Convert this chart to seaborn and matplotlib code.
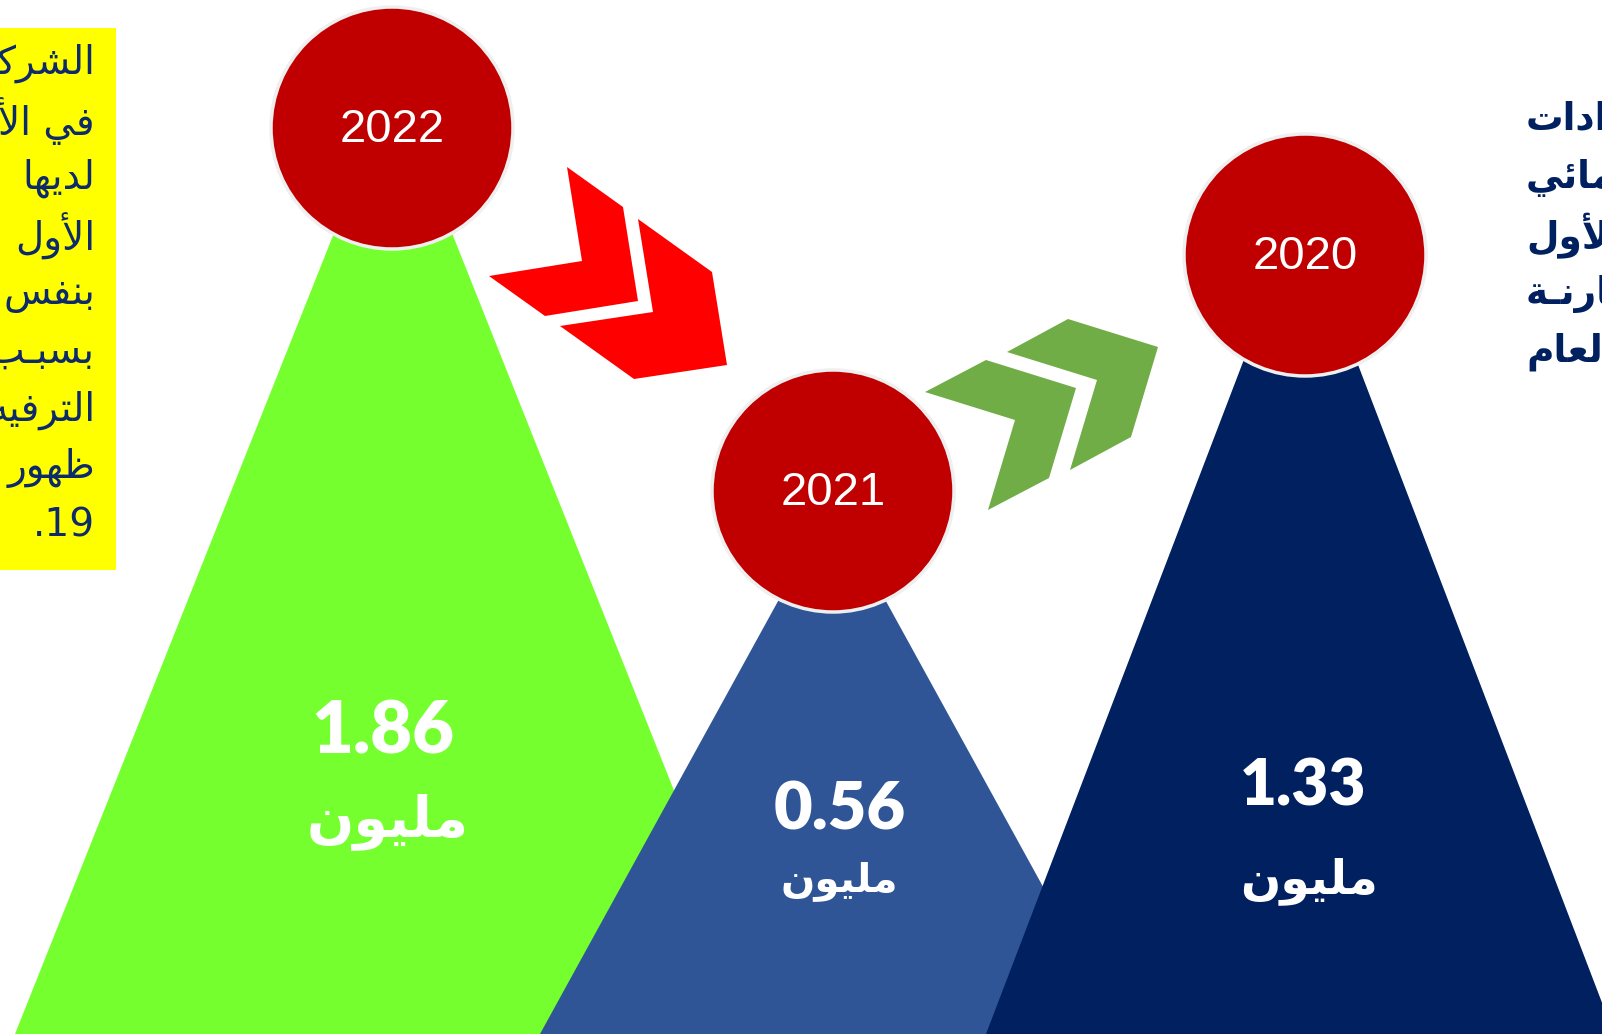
import re
import matplotlib
matplotlib.use("Agg")
import matplotlib.pyplot as plt
import seaborn as sns
from matplotlib.patches import Polygon, Circle, Rectangle

sns.set_style("white")
plt.rcParams["font.family"] = ["DejaVu Sans"]

# data
years = ["2022", "2021", "2020"]
values = [1.86, 0.56, 1.33]
unit_label = "مليون"
peak_colors = ["#76FF2E", "#2F5597", "#002060"]

note_lines = ["الشركات", "في الأشهر", "لديها", "الأول", "بنفس",
              "بسبـب", "الترفيه", "ظهور", "19."]
side_lines = ["الإيرادات", "الإنمائي", "الأول", "مقارنـة", "العام"]

# layout (pixel space, y down)
W, H = 1602, 1034
peak_x = [393, 832, 1300]
peak_top = [85, 503, 213]
peak_half_base = [378, 292, 314]
circle_x = [392, 833, 1305]
circle_y = [128, 491, 255]
circle_r = 121
value_dx = [-10, 8, 3]
value_y = [733, 810, 787]
unit_dx = [-5, 7, 9]
unit_y = [822, 881, 881]
value_size = [52, 48, 46]
unit_size = [40, 29, 34]

# ---- tiny arabic shaper (presentation forms + visual order) ----
FORMS = {
    "ا": (0xFE8D, 2), "أ": (0xFE83, 2), "إ": (0xFE87, 2), "آ": (0xFE81, 2),
    "ب": (0xFE8F, 4), "ة": (0xFE93, 2), "ت": (0xFE95, 4), "ث": (0xFE99, 4),
    "ج": (0xFE9D, 4), "ح": (0xFEA1, 4), "خ": (0xFEA5, 4), "د": (0xFEA9, 2),
    "ذ": (0xFEAB, 2), "ر": (0xFEAD, 2), "ز": (0xFEAF, 2), "س": (0xFEB1, 4),
    "ش": (0xFEB5, 4), "ص": (0xFEB9, 4), "ض": (0xFEBD, 4), "ط": (0xFEC1, 4),
    "ظ": (0xFEC5, 4), "ع": (0xFEC9, 4), "غ": (0xFECD, 4), "ف": (0xFED1, 4),
    "ق": (0xFED5, 4), "ك": (0xFED9, 4), "ل": (0xFEDD, 4), "م": (0xFEE1, 4),
    "ن": (0xFEE5, 4), "ه": (0xFEE9, 4), "و": (0xFEED, 2), "ى": (0xFEEF, 2),
    "ي": (0xFEF1, 4), "ئ": (0xFE89, 4), "ؤ": (0xFE85, 2),
}
LAM_ALEF = {"ا": 0xFEFB, "أ": 0xFEF7, "إ": 0xFEF9, "آ": 0xFEF5}
TATWEEL = "ـ"


def joins_next(c):
    return c == TATWEEL or (c in FORMS and FORMS[c][1] == 4)


def joins(c):
    return c == TATWEEL or c in FORMS


def shape_ar(text):
    out = []
    i = 0
    n = len(text)
    while i < n:
        c = text[i]
        prev = text[i - 1] if i > 0 else " "
        link_prev = joins_next(prev) and joins(c)
        if c == "ل" and i + 1 < n and text[i + 1] in LAM_ALEF:
            out.append(chr(LAM_ALEF[text[i + 1]] + (1 if link_prev else 0)))
            i += 2
            continue
        if c in FORMS:
            base, k = FORMS[c]
            nxt = text[i + 1] if i + 1 < n else " "
            link_next = k == 4 and joins(nxt)
            if link_prev and link_next:
                off = 3
            elif link_prev:
                off = 1
            elif link_next:
                off = 2
            else:
                off = 0
            out.append(chr(base + off))
        else:
            out.append(c)
        i += 1
    vis = "".join(out)[::-1]
    return re.sub(r"\d+", lambda m: m.group(0)[::-1], vis)


def chevron(ax, corner, a, b, t, color):
    cx, cy = corner
    outer = [(cx + a[0], cy + a[1]), (cx, cy), (cx + b[0], cy + b[1])]
    inner = [(x - t[0], y - t[1]) for x, y in outer]
    pts = [inner[0], outer[0], outer[1], outer[2], inner[2], inner[1]]
    ax.add_patch(Polygon(pts, closed=True, facecolor=color, edgecolor="none", zorder=3))


fig = plt.figure(figsize=(W / 100, H / 100), dpi=100)
ax = fig.add_axes([0, 0, 1, 1])
ax.set_xlim(0, W)
ax.set_ylim(H, 0)
ax.axis("off")

# peaks
for x, top, hb, col in zip(peak_x, peak_top, peak_half_base, peak_colors):
    ax.add_patch(Polygon([(x - hb, H), (x, top), (x + hb, H)], closed=True,
                         facecolor=col, edgecolor="none", zorder=1))

# circles + years
for x, cy, yr in zip(circle_x, circle_y, years):
    ax.add_patch(Circle((x, cy), circle_r, facecolor="#C00000", edgecolor="#EFEFEF",
                        linewidth=2.5, zorder=4))
    ax.text(x, cy + 2, yr, color="white", fontsize=34, family="Liberation Sans",
            ha="center", va="center", zorder=5)

# values
for i, v in enumerate(values):
    ax.text(peak_x[i] + value_dx[i], value_y[i], f"{v:.2f}", color="white",
            fontsize=value_size[i], family="Lato", fontweight="heavy",
            ha="center", va="center", zorder=5)
    ax.text(peak_x[i] + unit_dx[i], unit_y[i], shape_ar(unit_label), color="white",
            fontsize=unit_size[i], fontweight="bold", ha="center", va="center", zorder=5)

# chevrons
chevron(ax, (638, 301), (-15, -94), (-93, 15), (56, 40), "#FF0000")
chevron(ax, (727, 365), (-15, -93), (-93, 14), (74, 53), "#FF0000")
chevron(ax, (1076, 388), (-90, -28), (-27, 90), (61, -32), "#70AD47")
chevron(ax, (1158, 347), (-90, -28), (-27, 90), (61, -33), "#70AD47")

# left note box
ax.add_patch(Rectangle((0, 28), 116, 542, facecolor="#FFFF00", edgecolor="none", zorder=2))
for k, line in enumerate(note_lines):
    ax.text(95, 63 + k * 57.8, shape_ar(line), color="#0D2A6B", fontsize=28,
            ha="right", va="center", zorder=3, clip_on=True)

# right side text
for k, line in enumerate(side_lines):
    ax.text(1526, 120 + k * 58, shape_ar(line), color="#002060", fontsize=27,
            fontweight="bold", ha="left", va="center", zorder=3, clip_on=True)

fig.savefig("out.png", dpi=100)
